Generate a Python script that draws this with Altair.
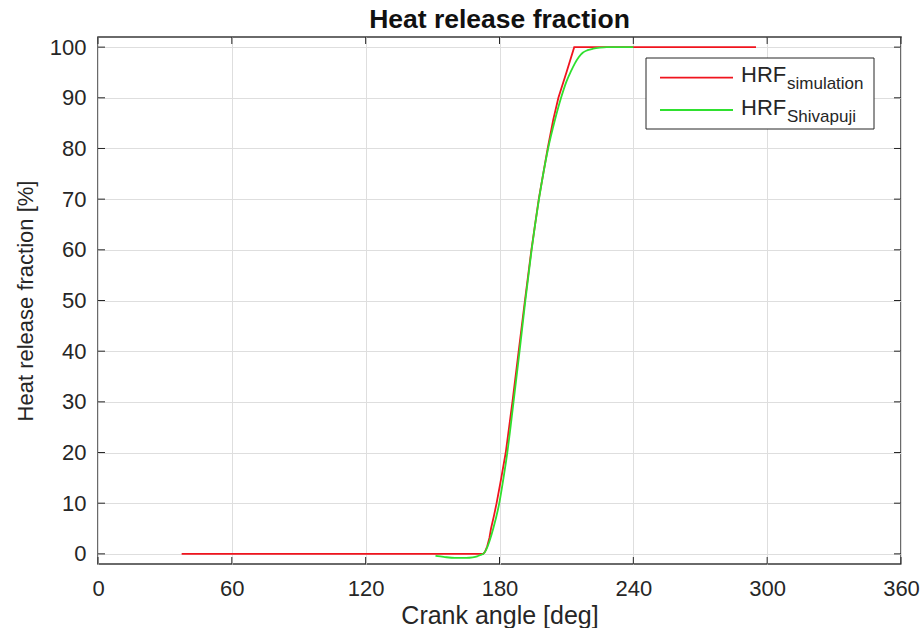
import altair as alt
import pandas as pd

# ---- data ----
sim_angle = [37.5, 172.7, 173.5, 174.5, 175.5, 176.2, 177.5, 178.7, 180.8, 182.8, 185.8,
             188.6, 191.4, 194.3, 197.6, 201.6, 204.1, 206.4, 210.0, 213.5, 295.0]
sim_hrf = [0.0, 0.0, 0.4, 1.5, 3.2, 5.0, 7.5, 10.0, 15.0, 20.0, 30.0,
           40.0, 50.0, 60.0, 70.0, 80.0, 85.7, 90.0, 95.0, 100.0, 100.0]

shi_angle = [151.3, 155.0, 160.0, 165.0, 168.0, 170.0, 171.5, 172.7, 174.0, 175.5, 177.2,
             179.9, 181.8, 183.5, 186.3, 189.0, 191.6, 194.4, 197.7, 201.8, 204.9,
             207.6, 210.0, 212.0, 213.8, 215.5, 217.3, 219.5, 222.0, 225.0, 228.0, 234.0, 240.0]
shi_hrf = [-0.4, -0.6, -0.8, -0.8, -0.7, -0.5, -0.2, 0.0, 0.8, 2.5, 5.0,
           10.0, 15.0, 20.0, 30.0, 40.0, 50.0, 60.0, 70.0, 80.0, 85.7,
           90.0, 93.2, 95.2, 96.8, 98.0, 98.9, 99.4, 99.7, 99.9, 100.0, 100.0, 100.0]

x_ticks = [0, 60, 120, 180, 240, 300, 360]
y_ticks = [0, 10, 20, 30, 40, 50, 60, 70, 80, 90, 100]

title_text = "Heat release fraction"
x_title = "Crank angle [deg]"
y_title = "Heat release fraction [%]"
legend_main = "HRF"
legend_subs = ["simulation", "Shivapuji"]

RED = "#f0141e"
GREEN = "#2fe02f"
INK = "#262626"
FONT = "Liberation Sans"

W, H = 803, 527

sim = pd.DataFrame({"angle": sim_angle, "hrf": sim_hrf})
shi = pd.DataFrame({"angle": shi_angle, "hrf": shi_hrf})
xt = pd.DataFrame({"angle": x_ticks})
yt = pd.DataFrame({"hrf": y_ticks})
one = pd.DataFrame({"k": [0]})

x_scale = alt.Scale(domain=[0, 360], nice=False, zero=False)
y_scale = alt.Scale(domain=[-2, 102], nice=False, zero=False)

x_axis = alt.Axis(values=x_ticks, title=x_title, grid=True, ticks=False, domain=False,
                  labelPadding=14, labelFontSize=22, labelFont=FONT, labelColor=INK,
                  labelFlush=False, labelOverlap=False,
                  titleFontSize=25, titleFont=FONT, titleColor=INK, titleFontWeight="normal",
                  titleBaseline="alphabetic", titleY=59,
                  gridColor="#dedede", gridWidth=1)
y_axis = alt.Axis(values=y_ticks, title=y_title, grid=True, ticks=False, domain=False,
                  labelPadding=12, labelFontSize=22, labelFont=FONT, labelColor=INK,
                  labelFlush=False, labelOverlap=False,
                  titleFontSize=22, titleFont=FONT, titleColor=INK, titleFontWeight="normal",
                  titleBaseline="alphabetic", titleX=-66,
                  gridColor="#dedede", gridWidth=1)

red = alt.Chart(sim).mark_line(color=RED, strokeWidth=1.8).encode(
    x=alt.X("angle:Q", scale=x_scale, axis=x_axis),
    y=alt.Y("hrf:Q", scale=y_scale, axis=y_axis),
)
green = alt.Chart(shi).mark_line(color=GREEN, strokeWidth=1.8, interpolate="monotone").encode(
    x=alt.X("angle:Q", scale=x_scale),
    y=alt.Y("hrf:Q", scale=y_scale),
)

# inward tick marks on all four sides (MATLAB box style)
tick_top = alt.Chart(xt).mark_rule(color=INK, strokeWidth=1).encode(
    x=alt.X("angle:Q", scale=x_scale), y=alt.value(0), y2=alt.value(7))
tick_bot = alt.Chart(xt).mark_rule(color=INK, strokeWidth=1).encode(
    x=alt.X("angle:Q", scale=x_scale), y=alt.value(H - 7), y2=alt.value(H))
tick_left = alt.Chart(yt).mark_rule(color=INK, strokeWidth=1).encode(
    y=alt.Y("hrf:Q", scale=y_scale), x=alt.value(0), x2=alt.value(7))
tick_right = alt.Chart(yt).mark_rule(color=INK, strokeWidth=1).encode(
    y=alt.Y("hrf:Q", scale=y_scale), x=alt.value(W - 7), x2=alt.value(W))

# custom legend with subscripts
LX0, LX1, LY0, LY1 = 548, 776, 21, 92
leg_box = alt.Chart(one).mark_rect(fill="white", stroke=INK, strokeWidth=1).encode(
    x=alt.value(LX0), x2=alt.value(LX1), y=alt.value(LY0), y2=alt.value(LY1))
leg_red = alt.Chart(one).mark_rule(color=RED, strokeWidth=1.8).encode(
    x=alt.value(562), x2=alt.value(635), y=alt.value(40.7))
leg_green = alt.Chart(one).mark_rule(color=GREEN, strokeWidth=1.8).encode(
    x=alt.value(562), x2=alt.value(635), y=alt.value(73))


def txt(s, x, y, size):
    return alt.Chart(one).mark_text(text=s, align="left", baseline="alphabetic",
                                    font=FONT, fontSize=size, color=INK).encode(
        x=alt.value(x), y=alt.value(y))


leg_t = [
    txt(legend_main, 643, 44.7, 22), txt(legend_subs[0], 689, 52.3, 17),
    txt(legend_main, 643, 77.7, 22), txt(legend_subs[1], 689, 85.3, 17),
]

chart = alt.layer(
    red, green, tick_top, tick_bot, tick_left, tick_right,
    leg_box, leg_red, leg_green, *leg_t
).properties(
    width=W, height=H,
    padding={"left": 98, "top": 37, "right": 21, "bottom": 64},
    autosize=alt.AutoSizeParams(type="none"),
    background="white",
    title=alt.TitleParams(title_text, font=FONT, fontSize=26.5, fontWeight="bold",
                          color="#111111", anchor="middle", frame="group", offset=2.5),
).configure_view(stroke="#3a3a3a", strokeWidth=1.5)

chart.save("out.html", embed_options={"renderer": "svg", "actions": False})
